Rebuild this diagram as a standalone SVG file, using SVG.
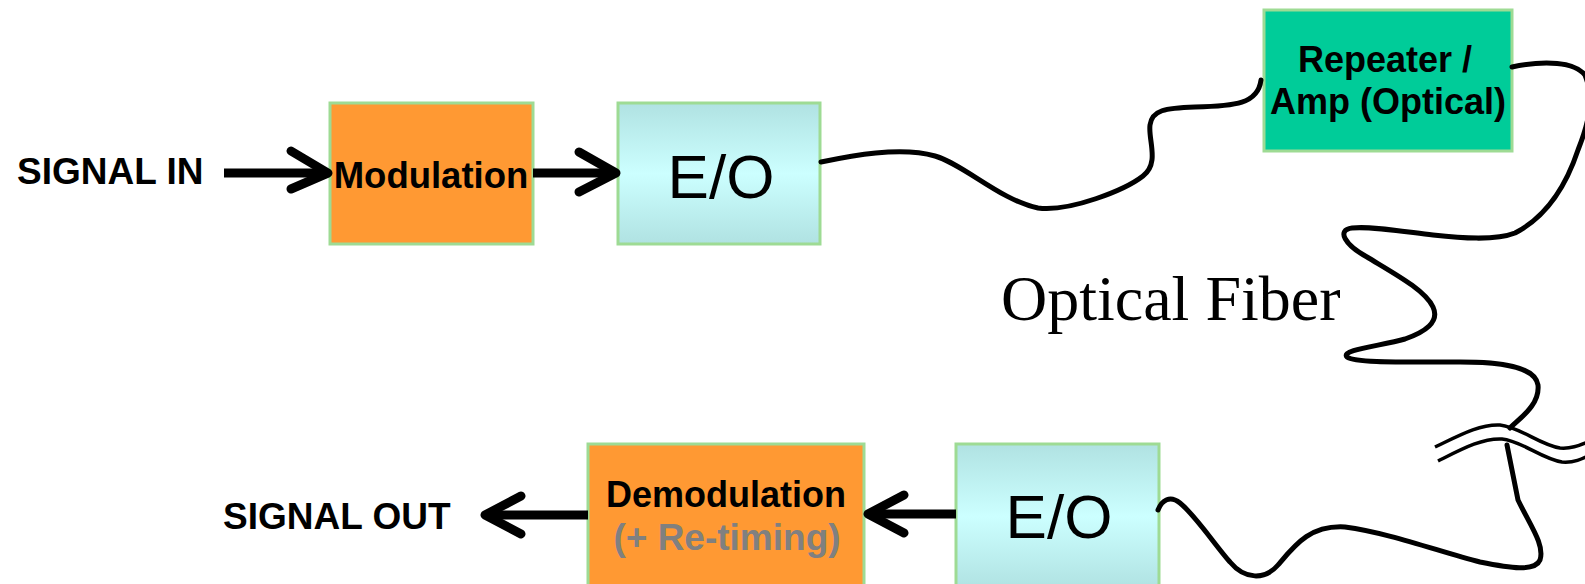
<svg xmlns="http://www.w3.org/2000/svg" width="1585" height="584" viewBox="0 0 1585 584">
<style>
.box{stroke:#9edb94;stroke-width:3}
.mod{fill:#ff9933}
.eo{fill:url(#eoGrad)}
.rep{fill:#00cc99}
.lbl{font-family:"Liberation Sans",Arial,sans-serif;font-weight:bold;fill:#000}
.eot{font-family:"Liberation Sans",Arial,sans-serif;font-size:62px;fill:#000;text-anchor:middle}
.arrow{fill:none;stroke:#000;stroke-width:9;stroke-linecap:round;stroke-linejoin:round}
.shaft{stroke:#000;stroke-width:9}
.fiber{fill:none;stroke:#000;stroke-width:5;stroke-linecap:round;stroke-linejoin:round}
.brk{fill:none;stroke:#000;stroke-width:3.5}
</style>
<defs>
<linearGradient id="eoGrad" x1="0" y1="0" x2="0" y2="1">
<stop offset="0" stop-color="#b0e2e2"/>
<stop offset="0.5" stop-color="#ccffff"/>
<stop offset="1" stop-color="#b0e2e2"/>
</linearGradient>
</defs>
<rect width="1585" height="584" fill="#fff"/>

<g id="signal-in"><text class="lbl" x="17" y="184" font-size="37">SIGNAL IN</text></g>

<g id="modulation">
<rect class="box mod" x="330" y="103" width="203" height="141"/>
<text class="lbl" x="431" y="188" font-size="36.5" text-anchor="middle">Modulation</text>
</g>

<g id="eo-tx">
<rect class="box eo" x="618" y="103" width="202" height="141"/>
<text class="eot" x="721" y="198">E/O</text>
</g>

<g id="repeater">
<rect class="box rep" x="1264" y="10" width="248" height="141"/>
<text class="lbl" x="1385" y="72" font-size="36" text-anchor="middle">Repeater /</text>
<text class="lbl" x="1388" y="114" font-size="36" text-anchor="middle">Amp (Optical)</text>
</g>

<g id="fiber-label"><text x="1001" y="320" font-family="'Liberation Serif','Times New Roman',serif" font-size="64" fill="#000">Optical Fiber</text></g>

<g id="eo-rx">
<rect class="box eo" x="956" y="444" width="203" height="145"/>
<text class="eot" x="1059" y="538">E/O</text>
</g>

<g id="demodulation">
<rect class="box mod" x="588" y="444" width="276" height="145"/>
<text class="lbl" x="726" y="507" font-size="36" text-anchor="middle">Demodulation</text>
<text class="lbl" x="727" y="550" font-size="37" text-anchor="middle" style="fill:#808080">(+ Re-timing)</text>
</g>

<g id="signal-out"><text class="lbl" x="223" y="529" font-size="37">SIGNAL OUT</text></g>

<g id="connectors">
<line class="shaft" x1="224" y1="173" x2="326" y2="173"/>
<polyline class="arrow" points="291,151 328,173 291,189"/>
<line class="shaft" x1="533" y1="173" x2="614" y2="173"/>
<polyline class="arrow" points="579,152 616,173 579,192"/>
<line class="shaft" x1="956" y1="514" x2="870" y2="514"/>
<polyline class="arrow" points="904,495 868,514 904,533"/>
<line class="shaft" x1="588" y1="515" x2="487" y2="515"/>
<polyline class="arrow" points="521,496 485,515 521,534"/>

<path class="fiber" d="M 821 162 C 850 156, 900 146, 935 156 C 965 165, 1000 200, 1038 208 C 1070 212, 1125 190, 1143 176 C 1160 163, 1148 140, 1150 125 C 1152 110, 1165 108, 1195 107 C 1235 106, 1258 104, 1261 80"/>
<path class="fiber" d="M 1512 67 C 1545 60, 1575 62, 1585 75 C 1595 100, 1588 125, 1578 150 C 1568 180, 1550 215, 1515 233 C 1495 241, 1460 238, 1433 235 C 1400 231, 1370 226, 1352 228 C 1336 230, 1345 245, 1367 257 C 1395 274, 1425 290, 1433 307 C 1440 322, 1425 332, 1405 339 C 1380 346, 1340 350, 1347 357 C 1355 363, 1400 362, 1460 362 C 1500 362, 1535 366, 1538 385 C 1540 405, 1520 418, 1510 428"/>
<path class="fiber" d="M 1507 445 L 1518 500 C 1530 525, 1545 545, 1540 560 C 1535 572, 1510 568, 1480 562 C 1440 552, 1390 533, 1345 527 C 1310 525, 1295 545, 1278 565 C 1265 580, 1245 580, 1230 562 C 1215 545, 1195 515, 1180 503 C 1170 495, 1162 500, 1158 510"/>
<path class="brk" d="M 1435 447 C 1460 435, 1480 424, 1500 425 C 1520 427, 1540 445, 1560 448 C 1572 449, 1580 445, 1590 441"/>
<path class="brk" d="M 1438 461 C 1462 449, 1482 438, 1502 439 C 1522 441, 1542 459, 1562 462 C 1574 463, 1582 459, 1590 455"/>
</g>
</svg>
